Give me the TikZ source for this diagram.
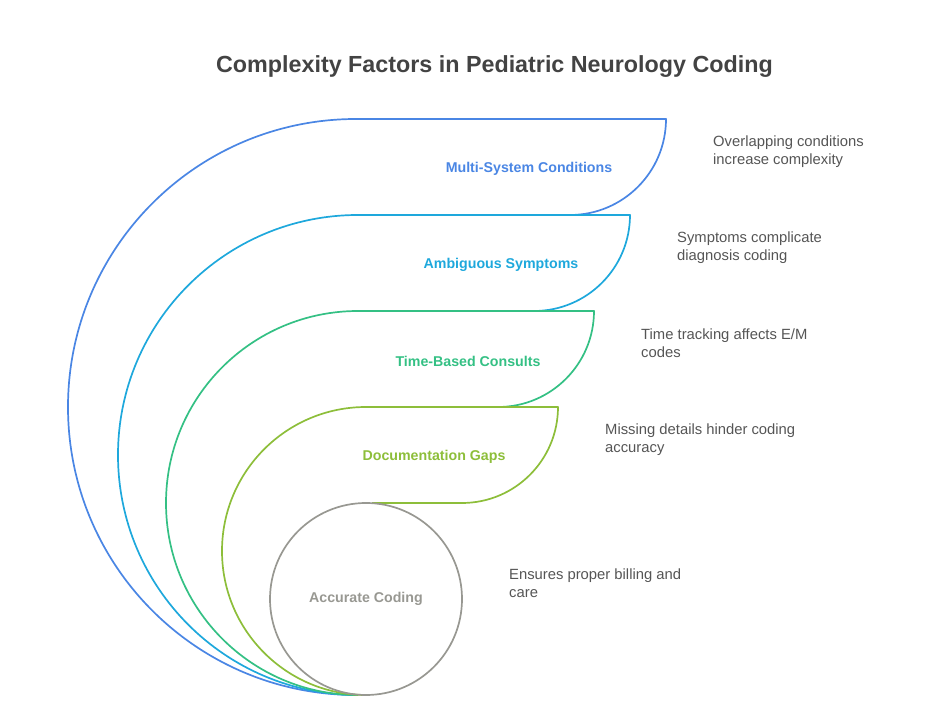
\documentclass[tikz,border=0pt]{standalone}
\usepackage{fontspec}
\setmainfont{Liberation Sans}
\usetikzlibrary{positioning}
\definecolor{cBlue}{RGB}{74,134,228}
\definecolor{cCyan}{RGB}{30,168,220}
\definecolor{cGreen}{RGB}{52,192,132}
\definecolor{cLime}{RGB}{141,190,58}
\definecolor{cGray}{RGB}{152,152,146}
\definecolor{titleGray}{RGB}{67,67,67}
\definecolor{noteGray}{RGB}{85,85,85}

\begin{document}
\begin{tikzpicture}[x=1pt, y=1pt,
    band/.style={line width=1.7pt, line join=round},
    lbl/.style={font=\bfseries\fontsize{14.2}{16}\selectfont},
    note/.style={font=\fontsize{14.8}{18}\selectfont, text=noteGray, align=left, anchor=west, inner sep=0pt}
]
    \useasboundingbox (0,0) rectangle (948,718);
    \node[font=\bfseries\fontsize{23.3}{27}\selectfont, text=titleGray] (title) at (494.5,651) {Complexity Factors in Pediatric Neurology Coding};
    % bands, outer one first
    \foreach \cx/\r/\xc/\col in {356/288/666/cBlue, 358/240/630/cCyan, 358/192/594/cGreen, 366/144/558/cLime}{
        \draw[band, \col] (\cx,23) arc[start angle=270, end angle=90, radius=\r] -- (\xc,{23+2*\r}) arc[start angle=0, end angle=-90, radius=96];
    }
    \draw[band, cLime] (462,215) -- (372,215);
    \node[circle, draw=cGray, line width=1.7pt, minimum size=192pt, inner sep=0pt, lbl, text=cGray] (acc) at (366,119) {Accurate Coding};
    \node[lbl, text=cBlue] (multi) at (529,549) {Multi-System Conditions};
    \node[lbl, text=cCyan] (ambig) at (501,453) {Ambiguous Symptoms};
    \node[lbl, text=cGreen] (timeb) at (468,357) {Time-Based Consults};
    \node[lbl, text=cLime] (docgap) at (434,261) {Documentation Gaps};
    \node[note] (n-multi) at (713,566.5) {Overlapping conditions\\increase complexity};
    \node[note] (n-ambig) at (677,470.5) {Symptoms complicate\\diagnosis coding};
    \node[note] (n-timeb) at (641,374.5) {Time tracking affects E/M\\codes};
    \node[note] (n-docgap) at (605,278.5) {Missing details hinder coding\\accuracy};
    \node[note] (n-acc) at (509,134.5) {Ensures proper billing and\\care};
\end{tikzpicture}
\end{document}
